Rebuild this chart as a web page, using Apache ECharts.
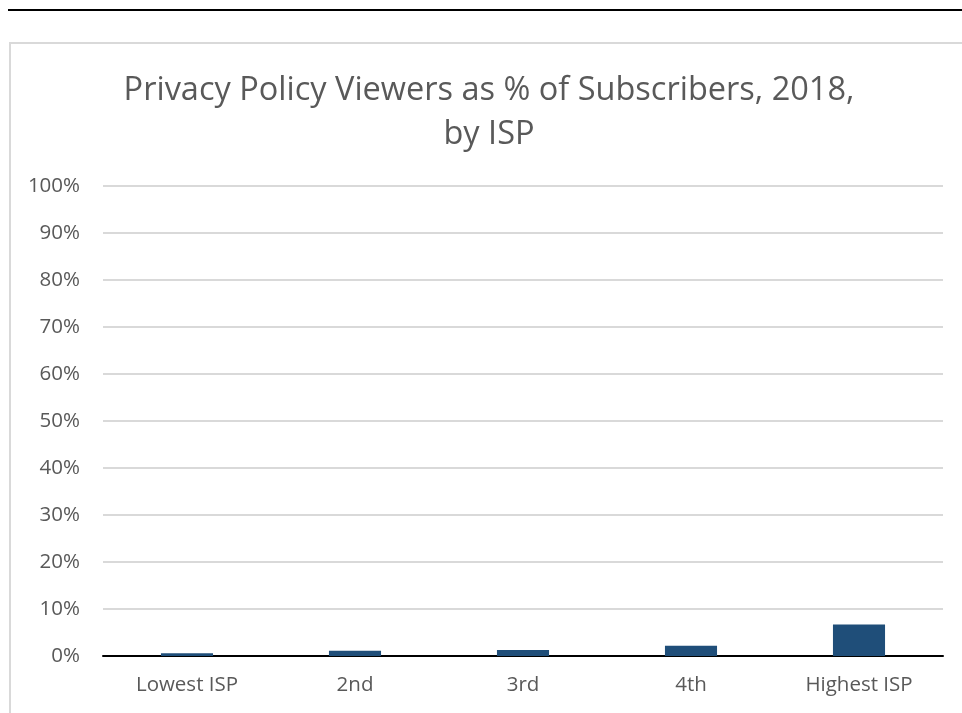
<!DOCTYPE html>
<html>
<head>
<meta charset="utf-8">
<style>
html,body{margin:0;padding:0;background:#fff;overflow:hidden;}
#chart{width:962px;height:713px;}
</style>
<script src="https://cdn.jsdelivr.net/npm/echarts@6/dist/echarts.min.js"></script>
</head>
<body>
<div id="chart"></div>
<script>
const categories = ['Lowest ISP', '2nd', '3rd', '4th', 'Highest ISP'];
const viewerPct = [0.6, 1.1, 1.3, 2.2, 6.7];
const yMin = 0, yMax = 100, yStep = 10;

const chart = echarts.init(document.getElementById('chart'));
chart.setOption({
  animation: false,
  backgroundColor: '#fff',
  title: {
    text: 'Privacy Policy Viewers as % of Subscribers, 2018,\nby ISP',
    left: 484,
    top: 64,
    textAlign: 'center',
    textStyle: {
      fontFamily: 'Open Sans',
      fontSize: 32.5,
      fontWeight: 'normal',
      color: '#595959',
      lineHeight: 44
    }
  },
  graphic: [
    { type: 'line', shape: { x1: 8, y1: 10, x2: 962, y2: 10 }, style: { stroke: '#000', lineWidth: 2 } },
    { type: 'rect', shape: { x: 10, y: 43, width: 1000, height: 1000 }, style: { fill: 'none', stroke: '#d9d9d9', lineWidth: 2 } }
  ],
  grid: { left: 103, right: 19, top: 186, bottom: 57, containLabel: false },
  xAxis: {
    type: 'category',
    data: categories,
    axisLine: { show: true, lineStyle: { color: '#000', width: 2 } },
    axisTick: { show: false },
    axisLabel: { color: '#595959', fontFamily: 'Open Sans', fontSize: 20.5, margin: 19 }
  },
  yAxis: {
    type: 'value',
    min: yMin, max: yMax, interval: yStep,
    axisLine: { show: false },
    axisTick: { show: false },
    splitLine: { lineStyle: { color: '#d9d9d9', width: 2 } },
    axisLabel: { color: '#595959', fontFamily: 'Open Sans', fontSize: 20.5, margin: 23, formatter: '{value}%' }
  },
  series: [{
    type: 'bar',
    data: viewerPct,
    barWidth: '31%',
    itemStyle: { color: '#1F4E79' }
  }]
});
</script>
</body>
</html>
